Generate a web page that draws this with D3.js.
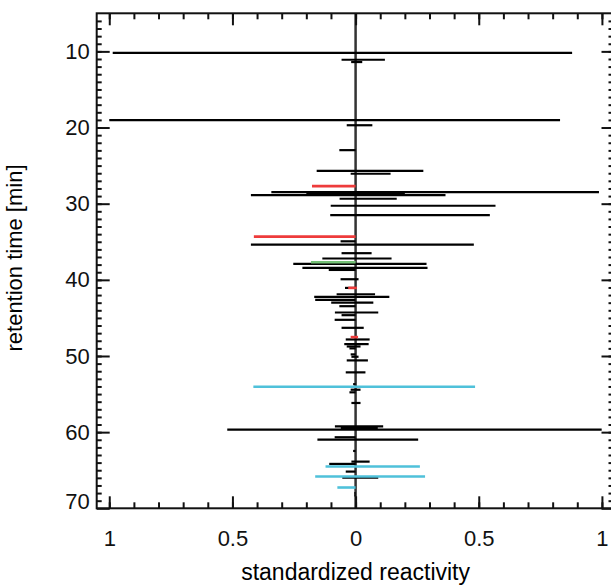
<!DOCTYPE html>
<html>
<head>
<meta charset="utf-8">
<script src="https://cdn.jsdelivr.net/npm/d3@7"></script>
<style>
  body { margin: 0; background: #fff; }
  svg { display: block; font-family: "Liberation Sans", Arial, sans-serif; }
  .tick line { stroke: #111; stroke-width: 2px; }
  .tick text { font-size: 22px; fill: #111; }
</style>
</head>
<body>
<svg class="chart" width="611" height="587"></svg>
<script>
// retention time [min], low end and high end of each reactivity segment
var blackTimes = [10.2, 11.1, 11.4, 19.04, 19.7, 22.97, 25.68, 26.07, 28.48, 28.7, 28.87, 29.35,
    30.27, 31.49, 34.94, 35.38, 36.5, 37.2, 37.9, 38.44, 38.7, 39.92, 41.06, 41.89, 42.24,
    42.63, 43.0, 43.46, 44.29, 44.64, 45.25, 46.3, 47.83, 48.44, 48.75, 49.0, 49.79, 50.1,
    50.58, 52.15, 53.7, 54.43, 54.77, 56.17, 59.23, 59.45, 59.67, 60.67, 60.98, 62.47,
    63.87, 64.17, 65.18, 65.96, 68.0, 68.3];
var blackLow = [-0.986, -0.057, -0.018, -1.0, -0.036, -0.066, -0.158, -0.02, -0.342, -0.2, -0.425, -0.065,
    -0.101, -0.103, -0.061, -0.425, -0.057, -0.135, -0.253, -0.216, -0.109, -0.061, -0.043, -0.077, -0.168,
    -0.164, -0.099, -0.066, -0.084, -0.057, -0.085, -0.057, -0.04, -0.046, -0.036, -0.025, -0.02, -0.017,
    -0.036, -0.04, -0.01, -0.02, -0.025, -0.017, -0.084, -0.06, -0.521, -0.085, -0.155, -0.01,
    -0.017, -0.107, -0.04, -0.054, -0.005, -0.005];
var blackHigh = [0.879, 0.119, 0.027, 0.830, 0.068, 0, 0.275, 0.142, 0.988, 0.2, 0.365, 0.167,
    0.568, 0.545, 0, 0.480, 0.065, 0.146, 0.288, 0.292, 0, 0.012, 0, 0.079, 0.137,
    0, 0.072, 0, 0.092, 0, 0, 0.033, 0.057, 0.053, 0.02, 0, 0, 0.012,
    0.05, 0.04, 0, 0.02, 0, 0.02, 0.112, 0.09, 0.999, 0, 0.254, 0,
    0.057, 0, 0, 0.092, 0, 0];

var redTimes = [27.69, 34.33, 41.06, 47.52];
var redLow = [-0.177, -0.413, -0.03, -0.02];
var redHigh = [0, 0, 0.005, 0.01];

var greenTimes = [37.7];
var greenLow = [-0.181];
var greenHigh = [0];

var cyanTimes = [54.03, 64.52, 65.83, 67.27];
var cyanLow = [-0.415, -0.122, -0.164, -0.074];
var cyanHigh = [0.485, 0.261, 0.282, 0];

var xMajor = [-1, -0.5, 0, 0.5, 1];
var yMajor = [10, 20, 30, 40, 50, 60, 70];

// plot frame edges (note: "top" is reserved on window, so use other names)
var frameL = 96.7, frameR = 613.5, frameT = 13.3, frameB = 508.3;

var svg = d3.select(".chart");

var x = d3.scaleLinear().domain([-1.051, 1.047]).range([frameL, frameR]);
var y = d3.scaleLinear().domain([5, 70]).range([frameT, frameB]);

function toRows(times, lows, highs) {
    return times.map(function(t, i) { return {t: t, lo: lows[i], hi: highs[i]}; });
}

var series = [
    {rows: toRows(blackTimes, blackLow, blackHigh), color: "#000", width: 2.2},
    {rows: toRows(redTimes, redLow, redHigh), color: "#ee3b3b", width: 2.6},
    {rows: toRows(greenTimes, greenLow, greenHigh), color: "#74c076", width: 2.6},
    {rows: toRows(cyanTimes, cyanLow, cyanHigh), color: "#4fc1da", width: 2.6}
];

// zero line
svg.append("line")
    .attr("x1", x(0)).attr("x2", x(0))
    .attr("y1", frameT).attr("y2", frameB)
    .attr("stroke", "#333")
    .attr("stroke-width", 2.5);

series.forEach(function(s) {
    svg.append("g").selectAll("line")
        .data(s.rows)
        .enter()
        .append("line")
        .attr("x1", function(d) { return x(d.lo); })
        .attr("x2", function(d) { return x(d.hi); })
        .attr("y1", function(d) { return y(d.t); })
        .attr("y2", function(d) { return y(d.t); })
        .attr("stroke", s.color)
        .attr("stroke-width", s.width);
});

/**** Axes: minor and major ticks pointing inward ****/
var xMinor = d3.range(-10, 11).map(function(v) { return v / 10; });
var yMinor = d3.range(6, 70);

function addAxis(axis, tx, ty) {
    var g = svg.append("g")
        .attr("transform", "translate(" + tx + "," + ty + ")")
        .call(axis);
    g.select(".domain").remove();
    return g;
}

addAxis(d3.axisBottom(x).tickValues(xMinor).tickSize(-6).tickFormat(""), 0, frameB);
addAxis(d3.axisTop(x).tickValues(xMinor).tickSize(-6).tickFormat(""), 0, frameT);
addAxis(d3.axisLeft(y).tickValues(yMinor).tickSize(-5).tickFormat(""), frameL, 0);
addAxis(d3.axisRight(y).tickValues(yMinor).tickSize(-5).tickFormat(""), frameR, 0);

addAxis(d3.axisBottom(x).tickValues(xMajor).tickSize(-12).tickPadding(22)
    .tickFormat(function(d) { return d3.format("")(Math.abs(d)); }), 0, frameB);
addAxis(d3.axisTop(x).tickValues(xMajor).tickSize(-12).tickFormat(""), 0, frameT);
var yAxisG = addAxis(d3.axisLeft(y).tickValues(yMajor).tickSize(-13).tickPadding(7), frameL, 0);
addAxis(d3.axisRight(y).tickValues(yMajor).tickSize(-12).tickFormat(""), frameR, 0);

// last label sits a bit higher, inside the frame
yAxisG.selectAll(".tick text")
    .attr("dy", function(d) { return d === 70 ? "0em" : "0.32em"; });

// frame
svg.append("rect")
    .attr("x", frameL).attr("y", frameT)
    .attr("width", frameR - frameL).attr("height", frameB - frameT)
    .attr("fill", "none")
    .attr("stroke", "#111")
    .attr("stroke-width", 2);

// axis titles
svg.append("text")
    .attr("x", x(0)).attr("y", 580)
    .attr("text-anchor", "middle")
    .style("font-size", "23px")
    .text("standardized reactivity");

svg.append("text")
    .attr("transform", "translate(22," + 258 + ") rotate(-90)")
    .attr("text-anchor", "middle")
    .style("font-size", "22px")
    .text("retention time [min]");
</script>
</body>
</html>
